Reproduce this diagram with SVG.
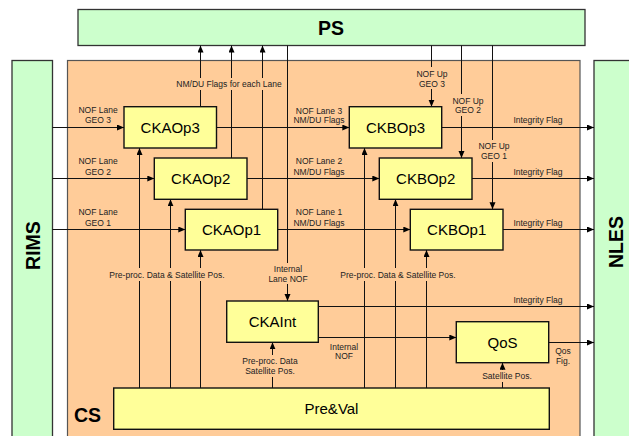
<svg xmlns="http://www.w3.org/2000/svg" width="629" height="436" viewBox="0 0 629 436">
<defs>
<marker id="ah" markerUnits="userSpaceOnUse" markerWidth="8" markerHeight="8" refX="7" refY="3" orient="auto">
<path d="M0,0 L7,3 L0,6 z" fill="#000"/>
</marker>
<style>
.ext{fill:#CCFFCC;stroke:#333;stroke-width:1.3}
.cs{fill:#FFCC99;stroke:#555;stroke-width:1.2}
.nd{fill:#FFFF99;stroke:#111;stroke-width:1.4}
.nt{font-family:"Liberation Sans",Arial,sans-serif;font-size:15px;fill:#000;text-anchor:middle}
.big{font-family:"Liberation Sans",Arial,sans-serif;font-size:19.5px;font-weight:bold;fill:#000}
.lb{font-family:"Liberation Sans",Arial,sans-serif;font-size:8.5px;fill:#222;text-anchor:middle}
.ln{stroke:#111;stroke-width:1;fill:none}
.ar{marker-end:url(#ah)}
.bg{fill:#FFCC99;stroke:none}
</style>
</defs>
<rect width="629" height="436" fill="#fff"/>
<g id="PS"><rect class="ext" x="78" y="9.5" width="507" height="36"/><text class="big" x="318" y="35">PS</text></g>
<g id="RIMS"><rect class="ext" x="12" y="60.5" width="40.5" height="385"/><text class="big" transform="translate(39.5,245.5) rotate(-90)" text-anchor="middle">RIMS</text></g>
<g id="NLES"><rect class="ext" x="594" y="60.5" width="50" height="385"/><text class="big" transform="translate(622.5,242) rotate(-90)" text-anchor="middle">NLES</text></g>
<g id="CS"><rect class="cs" x="67.5" y="60.5" width="512.5" height="385"/><text class="big" x="74" y="421.5">CS</text></g>
<g id="connectors">
<path class="ln ar" d="M52.5,127.5 H124"/>
<path class="ln ar" d="M52.5,178.5 H154.3"/>
<path class="ln ar" d="M52.5,229.5 H185.3"/>
<path class="ln ar" d="M216.5,127.5 H349.3"/>
<path class="ln ar" d="M247,178.5 H379.3"/>
<path class="ln ar" d="M277.7,229.5 H410.3"/>
<path class="ln ar" d="M441.7,127.5 H594"/>
<path class="ln ar" d="M472,178.5 H594"/>
<path class="ln ar" d="M503,229.5 H594"/>
<path class="ln ar" d="M318.3,306.5 H594"/>
<path class="ln ar" d="M318.3,337.5 H456.3"/>
<path class="ln ar" d="M548.7,342.5 H594"/>
<path class="ln ar" d="M200.5,106.7 V45.5"/>
<path class="ln ar" d="M231.5,158 V45.5"/>
<path class="ln ar" d="M262.5,209.3 V45.5"/>
<path class="ln ar" d="M287.5,45.5 V301"/>
<path class="ln ar" d="M431.5,45.5 V106.7"/>
<path class="ln ar" d="M461.5,45.5 V158"/>
<path class="ln ar" d="M492.5,45.5 V209.3"/>
<path class="ln ar" d="M139.5,388 V148"/>
<path class="ln ar" d="M170.5,388 V199.3"/>
<path class="ln ar" d="M200.5,388 V250"/>
<path class="ln ar" d="M364.5,388 V148"/>
<path class="ln ar" d="M395.5,388 V199.3"/>
<path class="ln ar" d="M426.5,388 V250"/>
<path class="ln ar" d="M272.5,388 V342.3"/>
<path class="ln ar" d="M502.5,388 V362.7"/>
<rect class="bg" x="174" y="78" width="112" height="12"/>
<rect class="bg" x="109" y="268" width="116" height="13"/>
<rect class="bg" x="340" y="268" width="116" height="13"/>
<rect class="bg" x="268" y="263" width="40" height="21"/>
<rect class="bg" x="242" y="355" width="57" height="22"/>
<rect class="bg" x="482" y="370" width="51" height="12"/>
<rect class="bg" x="415" y="67" width="34" height="22"/>
<rect class="bg" x="451" y="94" width="35" height="22"/>
<rect class="bg" x="477" y="140" width="34" height="22"/>
<text class="lb" x="98" y="113">NOF Lane</text><text class="lb" x="98" y="123">GEO 3</text>
<text class="lb" x="98" y="164">NOF Lane</text><text class="lb" x="98" y="175">GEO 2</text>
<text class="lb" x="98" y="215">NOF Lane</text><text class="lb" x="98" y="226">GEO 1</text>
<text class="lb" x="319" y="113.5">NOF Lane 3</text><text class="lb" x="319" y="123">NM/DU Flags</text>
<text class="lb" x="319" y="164">NOF Lane 2</text><text class="lb" x="319" y="175">NM/DU Flags</text>
<text class="lb" x="319" y="215">NOF Lane 1</text><text class="lb" x="319" y="226">NM/DU Flags</text>
<text class="lb" x="538" y="123">Integrity Flag</text>
<text class="lb" x="538" y="175">Integrity Flag</text>
<text class="lb" x="538" y="226">Integrity Flag</text>
<text class="lb" x="538" y="303">Integrity Flag</text>
<text class="lb" x="229" y="87">NM/DU Flags for each Lane</text>
<text class="lb" x="167" y="277.5">Pre-proc. Data &amp; Satellite Pos.</text>
<text class="lb" x="398" y="277.5">Pre-proc. Data &amp; Satellite Pos.</text>
<text class="lb" x="288" y="272">Internal</text><text class="lb" x="288" y="282">Lane NOF</text>
<text class="lb" x="270" y="364">Pre-proc. Data</text><text class="lb" x="270" y="374">Satellite Pos.</text>
<text class="lb" x="507" y="379">Satellite Pos.</text>
<text class="lb" x="344" y="349.5">Internal</text><text class="lb" x="344" y="359">NOF</text>
<text class="lb" x="563" y="354">Qos</text><text class="lb" x="563" y="364">Fig.</text>
<text class="lb" x="432" y="77">NOF Up</text><text class="lb" x="432" y="87">GEO 3</text>
<text class="lb" x="468" y="103.5">NOF Up</text><text class="lb" x="468" y="113">GEO 2</text>
<text class="lb" x="494" y="149">NOF Up</text><text class="lb" x="494" y="159">GEO 1</text>
</g>
<g id="CKAOp3"><rect class="nd" x="124" y="106.7" width="92.5" height="41.3"/><text class="nt" x="170.2" y="132.8">CKAOp3</text></g>
<g id="CKAOp2"><rect class="nd" x="154.3" y="158" width="92.7" height="41.3"/><text class="nt" x="200.7" y="184">CKAOp2</text></g>
<g id="CKAOp1"><rect class="nd" x="185.3" y="209.3" width="92.4" height="40.7"/><text class="nt" x="231.5" y="235">CKAOp1</text></g>
<g id="CKBOp3"><rect class="nd" x="349.3" y="106.7" width="92.4" height="41.3"/><text class="nt" x="395.5" y="132.8">CKBOp3</text></g>
<g id="CKBOp2"><rect class="nd" x="379.3" y="158" width="92.7" height="41.3"/><text class="nt" x="425.7" y="184">CKBOp2</text></g>
<g id="CKBOp1"><rect class="nd" x="410.3" y="209.3" width="92.7" height="40.7"/><text class="nt" x="456.7" y="235">CKBOp1</text></g>
<g id="CKAInt"><rect class="nd" x="226.7" y="301" width="91.6" height="41.3"/><text class="nt" x="272.5" y="327">CKAInt</text></g>
<g id="QoS"><rect class="nd" x="456.3" y="321.7" width="92.4" height="41"/><text class="nt" x="502.5" y="347.5">QoS</text></g>
<g id="PreVal"><rect class="nd" x="113.7" y="388" width="435.6" height="41.3"/><text class="nt" x="331.5" y="414">Pre&amp;Val</text></g>
</svg>
